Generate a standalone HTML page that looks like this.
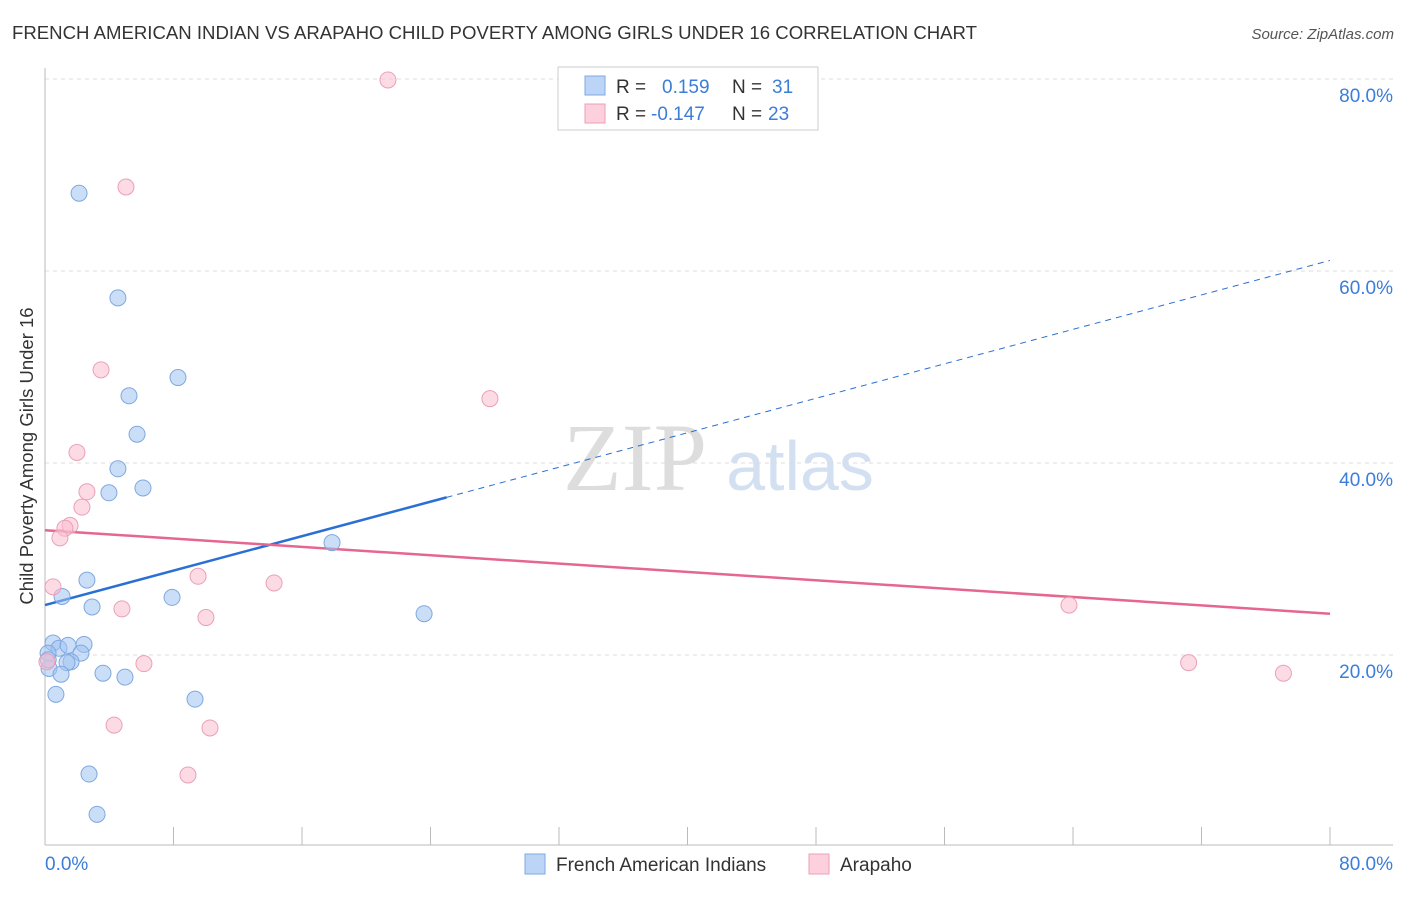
<!DOCTYPE html>
<html><head><meta charset="utf-8"><style>
body{margin:0;background:#fff;font-family:"Liberation Sans",sans-serif}
svg text{font-family:"Liberation Sans",sans-serif}
</style></head><body>
<svg width="1406" height="892" xmlns="http://www.w3.org/2000/svg" id="c">
<text x="12" y="39" font-size="18" fill="#333" textLength="965" lengthAdjust="spacingAndGlyphs">FRENCH AMERICAN INDIAN VS ARAPAHO CHILD POVERTY AMONG GIRLS UNDER 16 CORRELATION CHART</text>
<text x="1394" y="39" font-size="15" fill="#555" text-anchor="end" font-style="italic">Source: ZipAtlas.com</text>
<text transform="translate(33,456) rotate(-90)" font-size="18.5" fill="#333" text-anchor="middle">Child Poverty Among Girls Under 16</text>
<g>
<text x="635" y="490" font-size="96" fill="#ddd" text-anchor="middle" font-family="Liberation Serif" style="font-family:'Liberation Serif',serif">ZIP</text>
<text x="800" y="490" font-size="70" fill="#d3e0f2" text-anchor="middle">atlas</text>
</g>
<g id="grid"></g><g id="lines"></g><g id="pts"></g>
<g>
<rect x="558" y="67" width="260" height="63" fill="#fff" stroke="#ccc"/>
<rect x="585" y="76" width="20" height="19" fill="#bcd5f7" stroke="#7fa8e0"/>
<rect x="585" y="104" width="20" height="19" fill="#fcd0dc" stroke="#eba0b6"/>
<text x="616" y="93" font-size="19" fill="#333">R =</text>
<text x="662" y="93" font-size="19" fill="#3b7dd8">0.159</text>
<text x="732" y="93" font-size="19" fill="#333">N =</text>
<text x="772" y="93" font-size="19" fill="#3b7dd8">31</text>
<text x="616" y="120" font-size="19" fill="#333">R =</text>
<text x="651" y="120" font-size="19" fill="#3b7dd8">-0.147</text>
<text x="732" y="120" font-size="19" fill="#333">N =</text>
<text x="768" y="120" font-size="19" fill="#3b7dd8">23</text>
</g>
<g>
<rect x="525" y="854" width="20" height="20" fill="#bcd5f7" stroke="#7fa8e0"/>
<text x="556" y="871" font-size="19" fill="#333">French American Indians</text>
<rect x="809" y="854" width="20" height="20" fill="#fcd0dc" stroke="#eba0b6"/>
<text x="840" y="871" font-size="19" fill="#333">Arapaho</text>
</g>
</svg>
<script>
const blueX=[2.12,4.54,8.28,5.23,5.73,4.54,3.98,6.1,17.87,2.61,1.06,2.93,7.91,23.6,0.5,0.87,1.43,2.43,2.24,0.19,1.62,1.37,0.25,1.0,3.61,4.98,0.68,9.34,2.74,3.24,0.2];
const blueY=[68.1,57.2,48.9,47.0,43.0,39.4,36.9,37.4,31.7,27.8,26.1,25.0,26.0,24.3,21.25,20.7,21.0,21.1,20.2,20.2,19.3,19.2,18.6,18.0,18.1,17.7,15.9,15.4,7.6,3.4,19.5];
const pinkX=[21.35,5.04,3.49,27.7,1.99,2.61,2.3,1.56,1.24,0.93,9.53,14.26,0.5,4.79,10.02,63.75,71.2,77.1,6.16,0.12,4.3,10.27,8.9];
const pinkY=[79.9,68.75,49.7,46.7,41.1,37.0,35.4,33.5,33.2,32.2,28.2,27.5,27.1,24.8,23.9,25.2,19.2,18.1,19.1,19.3,12.7,12.4,7.5];
const yTicks=[20,40,60,80];
const xTickLabels=["0.0%","80.0%"];
const blueTrend=[25.2,61.1];
const pinkTrend=[33.0,24.3];
const NS="http://www.w3.org/2000/svg";
const X=v=>45+v*1285/80, Y=v=>847-v*9.6;
function mk(t,a,p){const e=document.createElementNS(NS,t);for(const k in a)e.setAttribute(k,a[k]);p.appendChild(e);return e;}
const g=document.getElementById('grid'),l=document.getElementById('lines'),p=document.getElementById('pts');
yTicks.forEach(t=>{const ln=mk('line',{x1:45,x2:1393,y1:Y(t),y2:Y(t),stroke:'#ddd','stroke-dasharray':'4,4'},g);


const tx=mk('text',{x:1393,y:Y(t)+23,'font-size':19,fill:'#3b7dd8','text-anchor':'end'},g);tx.textContent=t.toFixed(1)+'%';

});
const ax=mk('line',{x1:45,x2:45,y1:68,y2:845,stroke:'#bbb'},g);


const bx=mk('line',{x1:45,x2:1393,y1:845,y2:845,stroke:'#bbb'},g);


for(let i=0;i<=10;i++){const tk=mk('line',{x1:X(i*8),x2:X(i*8),y1:827,y2:845,stroke:'#bbb'},g);

}
const t0=mk('text',{x:45,y:870,'font-size':19,fill:'#3b7dd8'},g);t0.textContent=xTickLabels[0];


const t1=mk('text',{x:1393,y:870,'font-size':19,fill:'#3b7dd8','text-anchor':'end'},g);t1.textContent=xTickLabels[1];


const bv=x=>blueTrend[0]+(blueTrend[1]-blueTrend[0])*x/80;
const ls=mk('line',{x1:X(0),y1:Y(bv(0)),x2:X(25),y2:Y(bv(25)),stroke:'#2a6fd4','stroke-width':2.5},l);


const ld=mk('line',{x1:X(25),y1:Y(bv(25)),x2:X(80),y2:Y(bv(80)),stroke:'#2a6fd4','stroke-width':1,'stroke-dasharray':'6,5'},l);


const lp=mk('line',{x1:X(0),y1:Y(pinkTrend[0]),x2:X(80),y2:Y(pinkTrend[1]),stroke:'#e5678f','stroke-width':2.5},l);


blueX.forEach((x,i)=>{const c=mk('circle',{cx:X(x),cy:Y(blueY[i]),r:8,fill:'rgba(160,195,240,0.55)',stroke:'#7fa8e0'},p);

});
pinkX.forEach((x,i)=>{const c=mk('circle',{cx:X(x),cy:Y(pinkY[i]),r:8,fill:'rgba(250,190,208,0.55)',stroke:'#eba0b6'},p);

});
</script>
</body></html>
